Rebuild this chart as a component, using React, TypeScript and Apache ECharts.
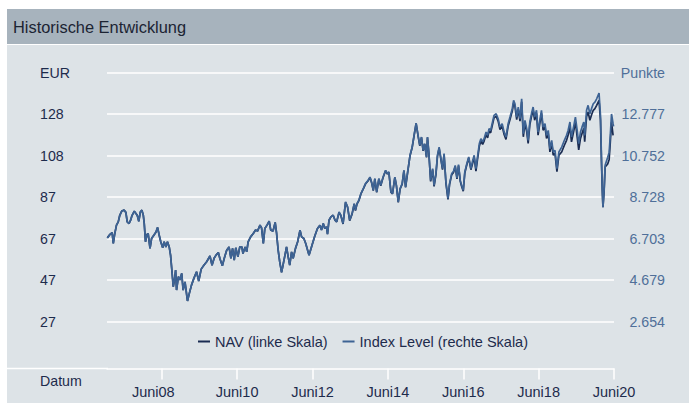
import React, { useEffect, useRef } from "react";
import * as echarts from "echarts";

const seriesNames = ["NAV (linke Skala)", "Index Level (rechte Skala)"];

const dates = [
  "2006-12-21", "2007-01-16", "2007-02-06", "2007-02-17", "2007-03-02", "2007-03-20", "2007-04-06", "2007-04-21", "2007-05-11", "2007-06-01",
  "2007-06-19", "2007-07-02", "2007-07-20", "2007-08-04", "2007-08-16", "2007-09-09", "2007-09-24", "2007-10-07", "2007-10-22", "2007-11-06",
  "2007-11-21", "2007-12-05", "2007-12-14", "2007-12-26", "2008-01-10", "2008-01-21", "2008-02-08", "2008-02-23", "2008-03-16", "2008-04-06",
  "2008-04-21", "2008-05-07", "2008-05-22", "2008-06-10", "2008-06-24", "2008-07-11", "2008-07-26", "2008-08-12", "2008-08-25", "2008-09-08",
  "2008-09-20", "2008-10-04", "2008-10-13", "2008-10-22", "2008-11-09", "2008-11-24", "2008-12-11", "2008-12-25", "2009-01-12", "2009-02-05",
  "2009-02-23", "2009-03-16", "2009-04-08", "2009-05-04", "2009-05-25", "2009-06-18", "2009-07-14", "2009-08-10", "2009-09-11", "2009-10-01",
  "2009-10-22", "2009-11-09", "2009-12-01", "2009-12-16", "2010-01-09", "2010-01-27", "2010-02-20", "2010-03-15", "2010-04-02", "2010-04-18",
  "2010-05-04", "2010-05-19", "2010-06-09", "2010-06-27", "2010-07-17", "2010-07-28", "2010-08-18", "2010-09-02", "2010-09-16", "2010-10-10",
  "2010-11-05", "2010-11-27", "2010-12-16", "2011-01-09", "2011-01-24", "2011-02-10", "2011-02-25", "2011-03-18", "2011-04-08", "2011-04-23",
  "2011-05-15", "2011-06-05", "2011-06-18", "2011-07-04", "2011-07-19", "2011-08-06", "2011-08-20", "2011-09-08", "2011-09-23", "2011-10-09",
  "2011-10-24", "2011-11-11", "2011-11-26", "2011-12-19", "2012-01-09", "2012-02-01", "2012-02-16", "2012-03-09", "2012-03-27", "2012-04-28",
  "2012-05-22", "2012-06-23", "2012-07-19", "2012-08-12", "2012-08-27", "2012-09-13", "2012-09-28", "2012-10-15", "2012-10-24", "2012-11-08",
  "2012-11-26", "2012-12-18", "2013-01-05", "2013-01-21", "2013-02-13", "2013-03-03", "2013-03-24", "2013-04-17", "2013-05-07", "2013-05-27",
  "2013-06-20", "2013-07-10", "2013-07-22", "2013-08-06", "2013-08-24", "2013-09-13", "2013-10-06", "2013-10-27", "2013-11-22", "2013-12-10",
  "2013-12-25", "2014-01-11", "2014-01-26", "2014-02-13", "2014-03-06", "2014-03-24", "2014-04-16", "2014-05-10", "2014-05-27", "2014-06-11",
  "2014-07-01", "2014-07-16", "2014-08-08", "2014-08-23", "2014-09-10", "2014-09-28", "2014-10-18", "2014-11-04", "2014-11-20", "2014-12-10",
  "2015-01-02", "2015-01-23", "2015-02-13", "2015-03-02", "2015-03-21", "2015-04-07", "2015-04-23", "2015-05-09", "2015-05-24", "2015-06-11",
  "2015-06-20", "2015-07-03", "2015-07-21", "2015-08-09", "2015-08-23", "2015-09-10", "2015-09-25", "2015-10-11", "2015-10-26", "2015-11-13",
  "2015-11-28", "2015-12-16", "2016-01-05", "2016-01-20", "2016-02-10", "2016-02-28", "2016-03-15", "2016-04-01", "2016-04-16", "2016-05-03",
  "2016-05-16", "2016-06-01", "2016-06-16", "2016-07-06", "2016-07-24", "2016-08-14", "2016-09-01", "2016-09-15", "2016-10-02", "2016-10-17",
  "2016-11-04", "2016-11-19", "2016-12-06", "2016-12-20", "2017-01-08", "2017-01-23", "2017-02-06", "2017-02-21", "2017-03-08", "2017-03-26",
  "2017-04-16", "2017-05-05", "2017-05-23", "2017-06-13", "2017-07-02", "2017-07-20", "2017-08-10", "2017-08-28", "2017-09-19", "2017-10-02",
  "2017-10-15", "2017-11-01", "2017-11-16", "2017-12-03", "2017-12-19", "2018-01-04", "2018-01-20", "2018-02-06", "2018-02-20", "2018-03-08",
  "2018-03-24", "2018-04-09", "2018-04-24", "2018-05-12", "2018-05-27", "2018-06-13", "2018-06-29", "2018-07-15", "2018-08-02", "2018-08-17",
  "2018-09-03", "2018-09-19", "2018-10-06", "2018-10-21", "2018-11-07", "2018-11-26", "2018-12-15", "2019-01-11", "2019-02-06", "2019-02-27",
  "2019-03-14", "2019-04-01", "2019-04-16", "2019-05-09", "2019-05-24", "2019-06-10", "2019-06-25", "2019-07-12", "2019-07-27", "2019-08-13",
  "2019-08-22", "2019-09-09", "2019-09-24", "2019-10-11", "2019-10-27", "2019-11-13", "2019-11-29", "2019-12-16", "2020-01-08", "2020-01-22",
  "2020-02-01", "2020-02-09", "2020-02-15", "2020-02-26", "2020-03-07", "2020-04-01", "2020-04-15", "2020-04-26", "2020-05-08", "2020-05-23",
  "2020-05-28",
];

const navValues = [
  68.0, 69.7, 70.6, 65.3, 69.7, 74.2, 75.8, 79.0, 81.1, 81.5,
  80.4, 75.8, 75.0, 76.6, 78.7, 81.0, 79.9, 79.0, 76.1, 80.6,
  81.5, 79.0, 75.0, 66.1, 69.7, 70.1, 62.9, 67.7, 69.3, 70.9,
  73.1, 69.3, 66.1, 63.2, 66.1, 63.6, 66.1, 63.6, 59.6, 51.5,
  44.2, 48.3, 52.3, 42.6, 49.1, 47.5, 50.7, 42.6, 46.6, 37.3,
  41.0, 45.0, 48.3, 51.5, 47.0, 52.8, 54.7, 56.4, 59.2, 54.7,
  58.2, 59.6, 60.9, 58.0, 54.4, 58.0, 62.0, 63.6, 58.0, 62.9,
  57.2, 63.2, 58.8, 63.6, 63.6, 60.4, 63.6, 61.2, 66.1, 68.5,
  70.1, 71.8, 71.3, 74.2, 72.9, 65.3, 72.6, 74.2, 76.1, 71.8,
  71.3, 75.5, 70.6, 62.0, 56.4, 51.2, 54.7, 59.6, 63.6, 58.8,
  54.7, 61.2, 58.0, 62.9, 66.1, 71.8, 68.5, 67.7, 65.3, 59.6,
  63.6, 68.9, 72.6, 74.2, 71.8, 75.0, 72.6, 73.4, 69.8, 76.6,
  78.2, 79.0, 76.6, 75.8, 80.4, 78.8, 74.8, 85.3, 82.9, 76.4,
  79.7, 84.5, 81.3, 84.5, 86.1, 89.4, 91.8, 94.2, 95.8, 97.4,
  95.0, 91.0, 96.7, 90.2, 96.7, 93.4, 97.4, 100.7, 99.1, 99.9,
  90.2, 89.4, 97.4, 93.4, 85.3, 91.8, 94.2, 100.7, 92.6, 99.9,
  108.0, 112.0, 118.5, 123.7, 117.7, 112.8, 116.9, 110.4, 113.7, 107.2,
  116.9, 109.6, 95.5, 101.2, 93.1, 98.8, 107.7, 111.7, 106.9, 101.2,
  108.5, 94.7, 86.7, 93.9, 98.8, 99.9, 102.8, 96.7, 103.2, 95.5,
  93.1, 90.7, 99.6, 103.7, 106.9, 101.2, 104.6, 107.0, 100.5, 106.2,
  112.7, 115.1, 113.5, 115.1, 118.3, 116.7, 120.0, 119.1, 122.4, 126.4,
  127.2, 124.8, 120.7, 122.4, 118.3, 115.9, 122.4, 125.6, 129.7, 133.7,
  132.1, 125.6, 130.5, 124.8, 134.2, 117.2, 123.7, 119.7, 114.0, 123.0,
  127.0, 130.2, 125.3, 128.6, 118.0, 123.7, 128.6, 120.4, 122.1, 116.4,
  118.8, 109.9, 114.0, 108.3, 109.1, 100.2, 108.3, 109.8, 113.1, 115.5,
  117.9, 122.0, 114.7, 120.4, 124.4, 117.2, 110.8, 116.4, 118.8, 121.3,
  114.8, 127.0, 129.3, 125.2, 127.8, 130.1, 130.9, 132.5, 134.9, 125.2,
  104.3, 90.5, 82.9, 90.5, 102.5, 104.0, 106.2, 114.5, 124.2, 117.9,
  117.9,
];

const indexValues = [
  6733, 6904, 6994, 6463, 6904, 7355, 7515, 7836, 8046, 8086,
  7976, 7515, 7435, 7595, 7806, 8036, 7926, 7836, 7545, 7996,
  8086, 7836, 7435, 6543, 6904, 6944, 6222, 6703, 6864, 7024,
  7245, 6864, 6543, 6252, 6543, 6292, 6543, 6292, 5891, 5080,
  4348, 4759, 5160, 4188, 4839, 4679, 4999, 4188, 4588, 3656,
  4027, 4428, 4759, 5080, 4629, 5210, 5400, 5571, 5851, 5400,
  5751, 5891, 6022, 5731, 5370, 5731, 6132, 6292, 5731, 6222,
  5651, 6252, 5811, 6292, 6292, 5972, 6292, 6052, 6543, 6784,
  6944, 7114, 7064, 7355, 7225, 6463, 7194, 7355, 7545, 7114,
  7064, 7485, 6994, 6132, 5571, 5050, 5400, 5891, 6292, 5811,
  5400, 6052, 5731, 6222, 6543, 7114, 6784, 6703, 6463, 5891,
  6292, 6824, 7194, 7355, 7114, 7435, 7194, 7275, 6914, 7595,
  7756, 7836, 7595, 7515, 7996, 7836, 7435, 8487, 8247, 7595,
  7926, 8407, 8086, 8407, 8568, 8898, 9139, 9379, 9540, 9700,
  9460, 9059, 9630, 8979, 9630, 9299, 9700, 10031, 9871, 9951,
  8979, 8898, 9700, 9299, 8487, 9139, 9379, 10031, 9219, 9951,
  10763, 11164, 11815, 12336, 11735, 11244, 11655, 11003, 11334, 10682,
  11655, 10923, 9540, 10111, 9299, 9871, 10763, 11164, 10682, 10111,
  10843, 9460, 8658, 9379, 9871, 9981, 10272, 9660, 10312, 9540,
  9299, 9059, 9951, 10362, 10682, 10111, 10522, 10763, 10111, 10682,
  11334, 11574, 11414, 11574, 11895, 11735, 12066, 11975, 12306, 12707,
  12787, 12547, 12136, 12306, 11895, 11655, 12306, 12627, 13038, 13439,
  13278, 12627, 13118, 12547, 13519, 11815, 12467, 12066, 11494, 12386,
  12787, 13118, 12627, 12958, 11895, 12467, 12958, 12136, 12306, 11735,
  11975, 11083, 11494, 10923, 11003, 10111, 10923, 11164, 11494, 11735,
  11975, 12386, 11655, 12226, 12627, 11975, 11334, 11895, 12136, 12386,
  11735, 12958, 13198, 12787, 13038, 13278, 13359, 13519, 13800, 12707,
  10522, 9059, 8227, 9059, 10272, 10662, 10903, 11735, 12777, 12306,
  12175,
];

const leftTickValues = [27.3, 47.5, 67.7, 87.9, 108.1, 128.3, 148.5];
const leftTickLabels = ["27", "47", "67", "87", "108", "128", "EUR"];
const rightTickValues = [2654, 4679, 6703, 8728, 10752, 12777, 14802];
const rightTickLabels = ["2.654", "4.679", "6.703", "8.728", "10.752", "12.777", "Punkte"];
const xTickDates = ["2008-06-01", "2010-06-01", "2012-06-01", "2014-06-01", "2016-06-01", "2018-06-01", "2020-06-01"];
const xTickLabels = ["Juni08", "Juni10", "Juni12", "Juni14", "Juni16", "Juni18", "Juni20"];
const xMin = "2006-12-18";
const xMax = "2020-06-01";

const FONT = "'Liberation Sans', Arial, Helvetica, sans-serif";
const DARK = "#1d2b4c";
const STEEL = "#4f6f99";

function toTime(d: string) {
  const [y, m, day] = d.split("-").map(Number);
  return Date.UTC(y, m - 1, day);
}

function nearestIndex(arr: number[], v: number) {
  let bi = 0;
  let bd = Infinity;
  for (let i = 0; i < arr.length; i++) {
    const d = Math.abs(arr[i] - v);
    if (d < bd) {
      bd = d;
      bi = i;
    }
  }
  return bi;
}

export default function App() {
  const ref = useRef<HTMLDivElement>(null);

  useEffect(() => {
    if (!ref.current) return;
    const chart = echarts.init(ref.current, undefined, { renderer: "svg" });
    const xTickTimes = xTickDates.map(toTime);
    const times = dates.map(toTime);

    const option: any = {
      animation: false,
      backgroundColor: "#dde3e7",
      textStyle: { fontFamily: FONT },
      grid: { left: 107, right: 75, top: 72.5, bottom: 81.5, containLabel: false },
      legend: {
        left: 193,
        top: 329,
        icon: "rect",
        itemWidth: 12,
        itemHeight: 2,
        itemGap: 15,
        textStyle: { fontSize: 14.5, color: DARK, fontFamily: FONT },
        data: seriesNames,
      },
      xAxis: {
        type: "value",
        min: toTime(xMin),
        max: toTime(xMax),
        position: "bottom",
        offset: 47,
        axisLine: { show: true, lineStyle: { color: "#ffffff", width: 1.5 } },
        axisTick: { show: true, customValues: xTickTimes, length: 11, lineStyle: { color: "#ffffff", width: 1.5 } },
        axisLabel: {
          customValues: xTickTimes,
          margin: 16,
          color: DARK,
          fontSize: 14.5,
          fontFamily: FONT,
          formatter: (v: number) => {
            const i = nearestIndex(xTickTimes, v);
            return i === 0 ? "{s|" + xTickLabels[i] + "}" : xTickLabels[i];
          },
          rich: { s: { fontSize: 14.5, color: DARK, fontFamily: FONT, padding: [0, 17, 0, 0] } },
        },
        splitLine: { show: false },
      },
      yAxis: [
        {
          type: "value",
          position: "left",
          min: leftTickValues[0],
          max: leftTickValues[leftTickValues.length - 1],
          axisLine: { show: false },
          axisTick: { show: false, customValues: leftTickValues },
          axisLabel: {
            customValues: leftTickValues,
            align: "left",
            margin: 67,
            color: DARK,
            fontSize: 14.2,
            fontFamily: FONT,
            formatter: (v: number) => leftTickLabels[nearestIndex(leftTickValues, v)],
          },
          splitLine: { show: true, lineStyle: { color: "#ffffff", width: 1.5 } },
        },
        {
          type: "value",
          position: "right",
          min: rightTickValues[0],
          max: rightTickValues[rightTickValues.length - 1],
          axisLine: { show: false },
          axisTick: { show: false, customValues: rightTickValues },
          axisLabel: {
            customValues: rightTickValues,
            align: "right",
            margin: 51,
            color: STEEL,
            fontSize: 14.2,
            fontFamily: FONT,
            formatter: (v: number) => rightTickLabels[nearestIndex(rightTickValues, v)],
          },
          splitLine: { show: false },
        },
      ],
      series: [
        {
          name: seriesNames[0],
          type: "line",
          yAxisIndex: 0,
          symbol: "none",
          showSymbol: false,
          color: "#1a2c52",
          lineStyle: { color: "#1a2c52", width: 1.7 },
          data: times.map((t, i) => [t, navValues[i]]),
        },
        {
          name: seriesNames[1],
          type: "line",
          yAxisIndex: 1,
          symbol: "none",
          showSymbol: false,
          color: "#3d6394",
          lineStyle: { color: "#3d6394", width: 1.7 },
          data: times.map((t, i) => [t, indexValues[i]]),
        },
      ],
      graphic: [
        { type: "rect", silent: true, shape: { x: 0, y: 0, width: 689, height: 9 }, style: { fill: "#ffffff" } },
        { type: "rect", silent: true, shape: { x: 0, y: 0, width: 7, height: 403 }, style: { fill: "#ffffff" } },
        { type: "rect", silent: true, shape: { x: 7, y: 9, width: 682, height: 35 }, style: { fill: "#a7b3bd" } },
        { type: "rect", silent: true, shape: { x: 7, y: 44, width: 682, height: 1 }, style: { fill: "#ffffff" } },
        {
          type: "text",
          silent: true,
          x: 13,
          y: 27,
          style: {
            text: "Historische Entwicklung",
            fontSize: 16.4,
            fontFamily: FONT,
            fill: "#1c2433",
            verticalAlign: "middle",
            textVerticalAlign: "middle",
          },
        },
        {
          type: "text",
          silent: true,
          x: 40,
          y: 381,
          style: {
            text: "Datum",
            fontSize: 14.2,
            fontFamily: FONT,
            fill: DARK,
            verticalAlign: "middle",
            textVerticalAlign: "middle",
          },
        },
        {
          type: "line",
          silent: true,
          shape: { x1: 7, y1: 368.5, x2: 108, y2: 368.5 },
          style: { stroke: "#ffffff", lineWidth: 1.5 },
        },
      ],
    };

    chart.setOption(option);
    return () => chart.dispose();
  }, []);

  return (
    <div
      ref={ref}
      style={{ position: "absolute", left: 0, top: 0, width: 689, height: 403 }}
    />
  );
}
